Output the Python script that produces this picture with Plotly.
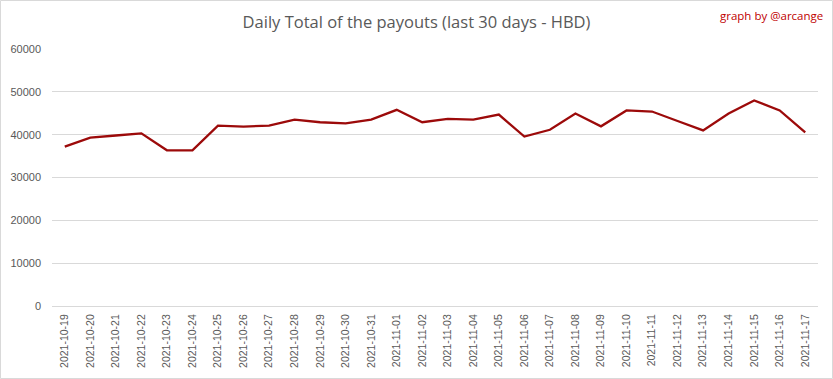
import plotly.graph_objects as go

dates = ["2021-10-19", "2021-10-20", "2021-10-21", "2021-10-22", "2021-10-23", "2021-10-24",
         "2021-10-25", "2021-10-26", "2021-10-27", "2021-10-28", "2021-10-29", "2021-10-30",
         "2021-10-31", "2021-11-01", "2021-11-02", "2021-11-03", "2021-11-04", "2021-11-05",
         "2021-11-06", "2021-11-07", "2021-11-08", "2021-11-09", "2021-11-10", "2021-11-11",
         "2021-11-12", "2021-11-13", "2021-11-14", "2021-11-15", "2021-11-16", "2021-11-17"]
payouts = [37200, 39300, 39800, 40300, 36350, 36350,
           42100, 41900, 42100, 43500, 42900, 42650,
           43500, 45800, 42900, 43700, 43500, 44700,
           39550, 41150, 44950, 41950, 45650, 45400,
           43200, 41000, 44950, 48000, 45650, 40550]

W, H = 833, 379
L, R, T, B = 52, 15, 49, 73
pw, ph = W - L - R, H - T - B

fig = go.Figure()
fig.add_trace(go.Scatter(x=dates, y=payouts, mode="lines",
                         line=dict(color="#9c0a0a", width=2.3), hoverinfo="x+y"))

fig.update_layout(
    width=W, height=H,
    margin=dict(l=L, r=R, t=T, b=B),
    paper_bgcolor="white", plot_bgcolor="white",
    showlegend=False,
    font=dict(family="Liberation Sans, Arial, sans-serif", color="#595959"),
    title=dict(text="Daily Total of the payouts (last 30 days - HBD)",
               x=0.5, xanchor="center", y=1 - 22 / H, yanchor="middle",
               font=dict(size=16.5, color="#595959", family="Open Sans, sans-serif")),
    xaxis=dict(type="category", tickangle=-90, tickfont=dict(size=10.5, color="#595959"),
               showgrid=False, showline=True, linecolor="#d9d9d9", linewidth=1,
               ticks="", range=[-0.5, len(dates) - 0.5], automargin=False,
               ticklabelstandoff=3),
    yaxis=dict(range=[0, 60000], dtick=10000, tickfont=dict(size=11, color="#595959"),
               showgrid=True, gridcolor="#d9d9d9", gridwidth=1, zeroline=False,
               showline=False, ticks="", tickformat="d", automargin=False,
               ticklabelstandoff=10),
    annotations=[dict(text="graph by @arcange", xref="paper", yref="paper",
                      x=(W - 8 - L) / pw, y=(H - 15 - B) / ph, xanchor="right", yanchor="middle",
                      showarrow=False, font=dict(size=11.5, color="#c00000",
                                                  family="Open Sans, sans-serif"))],
    shapes=[dict(type="rect", xref="paper", yref="paper",
                 x0=(-L + 0.5) / pw, x1=(W - L - 0.5) / pw,
                 y0=(-B + 0.5) / ph, y1=(H - B - 0.5) / ph,
                 line=dict(color="#d9d9d9", width=1), fillcolor="rgba(0,0,0,0)", layer="below")],
)

fig.write_html("out.html", config={"displayModeBar": False},
               post_script="document.body.style.margin='0';document.body.style.overflow='hidden';")
